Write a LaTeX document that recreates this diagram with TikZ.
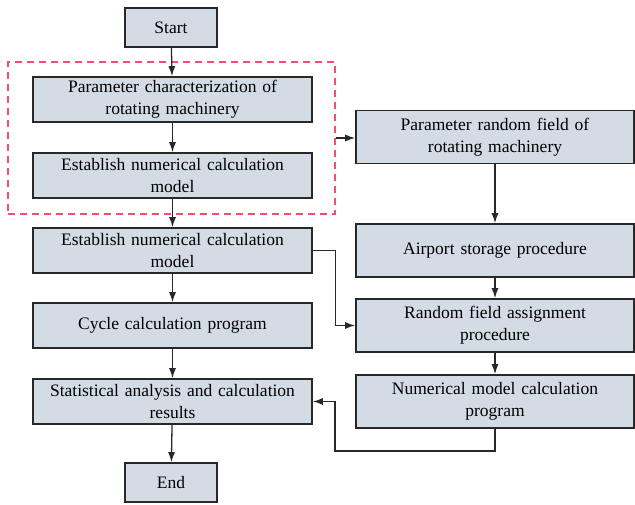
\documentclass[tikz,border=0pt]{standalone}
\usepackage{fontspec}
\setmainfont{Liberation Serif}
\usepackage{tikz}
\usetikzlibrary{arrows.meta,positioning}
\definecolor{boxfill}{RGB}{211,220,229}
\definecolor{boxline}{RGB}{40,40,40}
\definecolor{grpred}{RGB}{240,80,110}

\begin{document}
\begin{tikzpicture}[x=1pt,y=-1pt,
    procbox/.style={draw=boxline,line width=1.6pt,fill=boxfill,align=center,inner sep=2pt,
      minimum width=279pt,minimum height=45pt,text width=275pt,font=\fontsize{17.5}{22}\selectfont},
    endbox/.style={procbox,minimum width=92pt,minimum height=39pt,text width=88pt},
    sidebox/.style={procbox,minimum width=278pt,minimum height=53pt,text width=274pt},
    grpbox/.style={draw=grpred,line width=1.5pt,dash pattern=on 7pt off 5pt,
      minimum width=327pt,minimum height=152pt},
    arr/.style={draw=boxline,line width=1.3pt,-{Latex[length=10pt,width=7pt]}}]
  \useasboundingbox (0,0) rectangle (635,505);
  \node[endbox]  (start)  at (171,27.5)   {Start};
  \node[procbox] (pchar)  at (172.5,99.5) {Parameter characterization of\\rotating machinery};
  \node[procbox] (model1) at (172.5,175.5) {Establish numerical calculation\\model};
  \node[procbox] (model2) at (172.5,250.5) {Establish numerical calculation\\model};
  \node[procbox] (cycle)  at (172.5,325.5) {Cycle calculation program};
  \node[procbox] (stat)   at (172.5,401.5) {Statistical analysis and calculation\\results};
  \node[endbox]  (end)    at (171,482.5)   {End};
  \node[sidebox] (prf)     at (495,137)   {Parameter random field of\\rotating machinery};
  \node[sidebox] (airport) at (495,250.5) {Airport storage procedure};
  \node[sidebox] (rfa)     at (495,325.5) {Random field assignment\\procedure};
  \node[sidebox] (nmc)     at (495,401.5) {Numerical model calculation\\program};
  \node[grpbox]  (grp)     at (171.5,138) {};
  \coordinate (back) at (335,451);
  \draw[arr] (start) -- (pchar);
  \draw[arr] (pchar) -- (model1);
  \draw[arr] (model1) -- (model2);
  \draw[arr] (model2) -- (cycle);
  \draw[arr] (cycle) -- (stat);
  \draw[arr] (stat) -- (end);
  \draw[arr] (grp.east) -- (grp.east -| prf.west);
  \draw[arr] (prf) -- (airport);
  \draw[arr] (airport) -- (rfa);
  \draw[arr] (rfa) -- (nmc);
  \draw[arr] (model2.east) -- ++(23,0) |- (rfa.west);
  \draw[arr] (nmc.south) |- (back) |- (stat.east);
\end{tikzpicture}
\end{document}
